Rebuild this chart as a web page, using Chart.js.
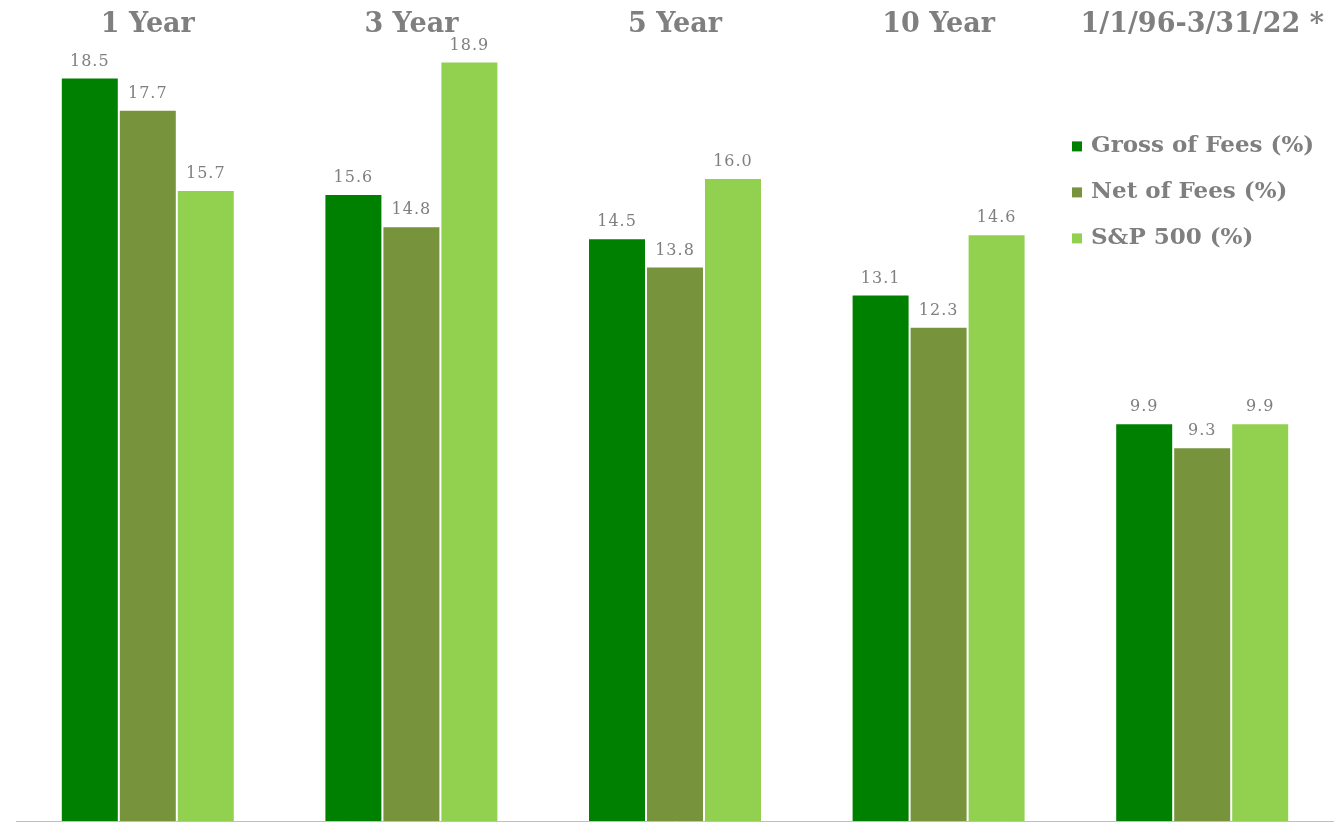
<!DOCTYPE html>
<html>
<head>
<meta charset="utf-8">
<script src="https://cdn.jsdelivr.net/npm/chart.js@4.4.1/dist/chart.umd.min.js"></script>
<style>
  html, body { margin: 0; padding: 0; background: #fff; }
  #wrap { width: 1334px; height: 822px; position: relative; }
</style>
</head>
<body>
<div id="wrap"><canvas id="perfChart"></canvas></div>
<script>
const periods = ['1 Year', '3 Year', '5 Year', '10 Year', '1/1/96-3/31/22 *'];
const grossOfFees = [18.5, 15.6, 14.5, 13.1, 9.9];
const netOfFees = [17.7, 14.8, 13.8, 12.3, 9.3];
const sp500 = [15.7, 18.9, 16.0, 14.6, 9.9];
const seriesNames = ['Gross of Fees (%)', 'Net of Fees (%)', 'S&P 500 (%)'];
const seriesColors = ['#008000', '#77933c', '#92d050'];

const gray = '#7f7f7f';
const serif = "'DejaVu Serif', 'Liberation Serif', serif";

// value labels above each bar
const valueLabels = {
    id: 'valueLabels',
    afterDatasetsDraw(chart) {
        const ctx = chart.ctx;
        ctx.save();
        ctx.font = '16px ' + serif;
        ctx.fillStyle = gray;
        ctx.textAlign = 'center';
        ctx.textBaseline = 'bottom';
        ctx.letterSpacing = '1px';
        chart.data.datasets.forEach((ds, i) => {
            chart.getDatasetMeta(i).data.forEach((bar, j) => {
                ctx.fillText(ds.data[j].toFixed(1), bar.x, bar.y - 8);
            });
        });
        ctx.restore();
    }
};

// legend drawn inside the plot, right side
const insideLegend = {
    id: 'insideLegend',
    afterDraw(chart) {
        const ctx = chart.ctx;
        const area = chart.chartArea;
        const x = area.right - 262;
        let y = area.top + 95;
        ctx.save();
        ctx.font = 'bold 23px ' + serif;
        ctx.textBaseline = 'middle';
        chart.data.datasets.forEach(ds => {
            ctx.fillStyle = ds.backgroundColor;
            ctx.fillRect(x, y - 5, 10, 10);
            ctx.fillStyle = gray;
            ctx.fillText(ds.label, x + 19, y);
            y += 46;
        });
        ctx.restore();
    }
};

new Chart(document.getElementById('perfChart'), {
    type: 'bar',
    data: {
        labels: periods,
        datasets: [
            { label: seriesNames[0], data: grossOfFees, backgroundColor: seriesColors[0] },
            { label: seriesNames[1], data: netOfFees, backgroundColor: seriesColors[1] },
            { label: seriesNames[2], data: sp500, backgroundColor: seriesColors[2] }
        ].map(ds => Object.assign(ds, {
            borderColor: '#ffffff',
            borderWidth: 1,
            barPercentage: 1,
            categoryPercentage: 0.66
        }))
    },
    options: {
        responsive: true,
        maintainAspectRatio: false,
        animation: false,
        layout: { padding: { left: 16, right: 0, top: 7, bottom: 0 } },
        plugins: {
            legend: { display: false },
            tooltip: { enabled: false }
        },
        scales: {
            x: {
                position: 'bottom',
                grid: { display: true, drawOnChartArea: false, drawTicks: true, tickLength: 1, color: '#bfbfbf', offset: true },
                border: { display: true, color: '#bfbfbf', width: 1 },
                ticks: { display: false }
            },
            xTop: {
                type: 'category',
                labels: periods,
                position: 'top',
                grid: { display: false },
                border: { display: false },
                ticks: {
                    color: gray,
                    font: { family: serif, size: 27, weight: 'bold' },
                    padding: 2,
                    maxRotation: 0
                }
            },
            y: {
                display: false,
                min: 0,
                max: 19.15
            }
        }
    },
    plugins: [valueLabels, insideLegend]
});
</script>
</body>
</html>
